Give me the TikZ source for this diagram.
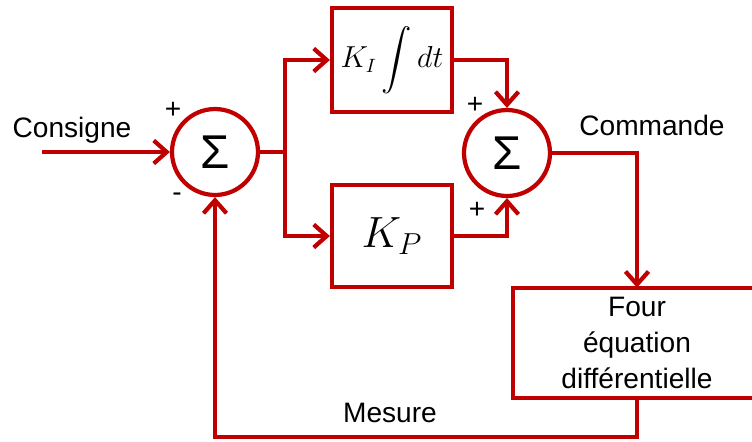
\documentclass[tikz,border=0pt]{standalone}
\usepackage{exscale}
\usepackage{fontspec}
\setmainfont{Liberation Sans}
\usetikzlibrary{arrows.meta}
\definecolor{pidRed}{RGB}{192,0,0}
\begin{document}
\begin{tikzpicture}[x=0.02cm,y=-0.02cm]
\tikzset{
    pidSum/.style={circle,draw=pidRed,line width=2.4pt,minimum size=1.72cm,inner sep=0pt,font=\fontsize{27}{30}\selectfont},
    pidBlock/.style={draw=pidRed,line width=2.4pt,inner sep=0pt},
    pidLink/.style={draw=pidRed,line width=2.4pt},
    pidArrow/.style={pidLink,-{Straight Barb[length=2.6mm,width=4.6mm,line width=2.4pt]}},
    pidLabel/.style={font=\fontsize{16}{20.5}\selectfont},
    pidSign/.style={font=\fontsize{16}{18}\selectfont}
}
\useasboundingbox (0,0) rectangle (752,441);
% summing junctions
\node[pidSum] (S1) at (215,152) {Σ};
\node[pidSum] (S2) at (507,153) {Σ};
% integral and proportional branches
\node[pidBlock,minimum width=2.4cm,minimum height=2.08cm,font=\fontsize{16}{20}\selectfont] (KI) at (392,60) {$\displaystyle K_I\int dt$};
\node[pidBlock,minimum width=2.4cm,minimum height=2.04cm,font=\fontsize{26}{30}\selectfont] (KP) at (392,236) {$K_P$};
% process (right side runs off the page)
\node[pidLabel,align=center,minimum width=4.96cm,minimum height=2.2cm,inner sep=0pt] (four) at (637,343) {Four\\équation\\différentielle};
\draw[pidLink] (four.north west) ++(239,0) -- (four.north west) -- (four.south west) -- ++(239,0);

\coordinate (in) at (42,152);    % consigne
\coordinate (split) at (285,152);
\coordinate (fb) at (637,437);   % mesure return

\draw[pidArrow] (in) -- (S1.west);
\draw[pidLink] (S1.east) -- (split);
\draw[pidArrow] (split) |- (KI.west);
\draw[pidArrow] (split) |- (KP.west);
\draw[pidArrow] (KI.east) -| (S2.north);
\draw[pidArrow] (KP.east) -| (S2.south);
\draw[pidArrow] (S2.east) -| (four.north);
\draw[pidArrow] (four.south) -- (fb) -| (S1.south);

\node[pidLabel] (consigne) at (72,130) {Consigne};
\node[pidLabel] (commande) at (652,125) {Commande};
\node[pidLabel] (mesure) at (390,413) {Mesure};
\node[pidSign] (s1p) at (173,110) {+};
\node[pidSign] (s1m) at (177,197) {-};
\node[pidSign] (s2a) at (475,105) {+};
\node[pidSign] (s2b) at (477,210) {+};
\end{tikzpicture}
\end{document}
